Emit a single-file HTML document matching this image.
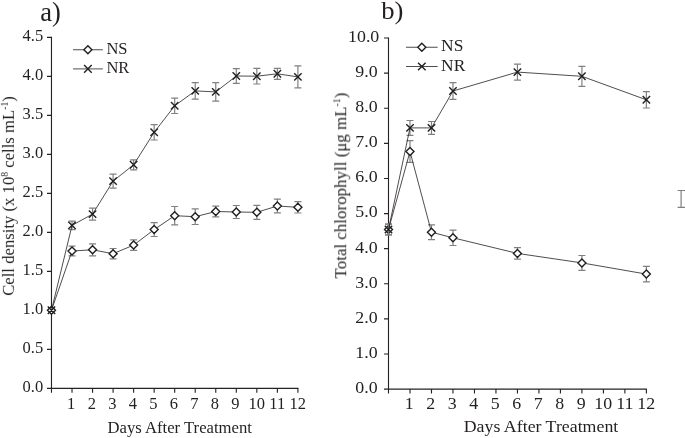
<!DOCTYPE html><html><head><meta charset="utf-8"><style>
html,body{margin:0;padding:0;background:#fff;}body{width:685px;height:438px;overflow:hidden;}svg{display:block;position:absolute;left:0;top:0;}
text{font-family:"Liberation Serif",serif;fill:#231f20;filter:blur(0px);}
</style></head><body>
<svg width="685" height="438" viewBox="0 0 685 438">
<rect width="685" height="438" fill="#fff"/>
<g stroke="#262223" stroke-width="1.12" fill="none">
<path d="M51.48 36.86V392.82"/>
<path d="M46.98 388.42H298.46"/>
<path d="M72.02 388.42v4.4M92.55 388.42v4.4M113.09 388.42v4.4M133.62 388.42v4.4M154.16 388.42v4.4M174.69 388.42v4.4M195.22 388.42v4.4M215.76 388.42v4.4M236.29 388.42v4.4M256.83 388.42v4.4M277.37 388.42v4.4M297.90 388.42v4.4M51.48 349.42h-4.5M51.48 310.42h-4.5M51.48 271.42h-4.5M51.48 232.42h-4.5M51.48 193.42h-4.5M51.48 154.42h-4.5M51.48 115.42h-4.5M51.48 76.42h-4.5M51.48 37.42h-4.5"/>
</g>
<text transform="translate(43.20 392.32) scale(0.96 1)" font-size="17.2" text-anchor="end">0.0</text>
<text transform="translate(43.20 353.32) scale(0.96 1)" font-size="17.2" text-anchor="end">0.5</text>
<text transform="translate(43.20 314.32) scale(0.96 1)" font-size="17.2" text-anchor="end">1.0</text>
<text transform="translate(43.20 275.32) scale(0.96 1)" font-size="17.2" text-anchor="end">1.5</text>
<text transform="translate(43.20 236.32) scale(0.96 1)" font-size="17.2" text-anchor="end">2.0</text>
<text transform="translate(43.20 197.32) scale(0.96 1)" font-size="17.2" text-anchor="end">2.5</text>
<text transform="translate(43.20 158.32) scale(0.96 1)" font-size="17.2" text-anchor="end">3.0</text>
<text transform="translate(43.20 119.32) scale(0.96 1)" font-size="17.2" text-anchor="end">3.5</text>
<text transform="translate(43.20 80.32) scale(0.96 1)" font-size="17.2" text-anchor="end">4.0</text>
<text transform="translate(43.20 41.32) scale(0.96 1)" font-size="17.2" text-anchor="end">4.5</text>
<text transform="translate(71.22 409.00) scale(0.96 1)" font-size="17.2" text-anchor="middle">1</text>
<text transform="translate(91.75 409.00) scale(0.96 1)" font-size="17.2" text-anchor="middle">2</text>
<text transform="translate(112.29 409.00) scale(0.96 1)" font-size="17.2" text-anchor="middle">3</text>
<text transform="translate(132.82 409.00) scale(0.96 1)" font-size="17.2" text-anchor="middle">4</text>
<text transform="translate(153.35 409.00) scale(0.96 1)" font-size="17.2" text-anchor="middle">5</text>
<text transform="translate(173.89 409.00) scale(0.96 1)" font-size="17.2" text-anchor="middle">6</text>
<text transform="translate(194.42 409.00) scale(0.96 1)" font-size="17.2" text-anchor="middle">7</text>
<text transform="translate(214.96 409.00) scale(0.96 1)" font-size="17.2" text-anchor="middle">8</text>
<text transform="translate(235.49 409.00) scale(0.96 1)" font-size="17.2" text-anchor="middle">9</text>
<text transform="translate(256.73 409.00) scale(0.96 1)" font-size="17.2" text-anchor="middle">10</text>
<text transform="translate(277.26 409.00) scale(0.96 1)" font-size="17.2" text-anchor="middle">11</text>
<text transform="translate(297.80 409.00) scale(0.96 1)" font-size="17.2" text-anchor="middle">12</text>
<text transform="translate(179.70 433.00) scale(0.97 1)" font-size="17.2" text-anchor="middle">Days After Treatment</text>
<text transform="translate(13.90 196.05) rotate(-90) scale(0.97 1)" font-size="17.2" text-anchor="middle">Cell density (x 10<tspan font-size="10" dy="-5.8">8</tspan><tspan dy="5.8"> cells mL</tspan><tspan font-size="10" dy="-5.8">-1</tspan><tspan dy="5.8">)</tspan></text>
<path d="M72.02 246.10V255.90M68.52 246.10h7M68.52 255.90h7M92.55 243.80V255.80M89.05 243.80h7M89.05 255.80h7M113.09 248.50V258.90M109.59 248.50h7M109.59 258.90h7M133.62 239.90V250.30M130.12 239.90h7M130.12 250.30h7M154.16 222.70V236.50M150.66 222.70h7M150.66 236.50h7M174.69 206.50V224.90M171.19 206.50h7M171.19 224.90h7M195.22 208.90V224.50M191.72 208.90h7M191.72 224.50h7M215.76 206.20V216.80M212.26 206.20h7M212.26 216.80h7M236.29 205.50V218.50M232.79 205.50h7M232.79 218.50h7M256.83 205.30V219.30M253.33 205.30h7M253.33 219.30h7M277.37 199.20V212.80M273.87 199.20h7M273.87 212.80h7M297.90 201.60V213.00M294.40 201.60h7M294.40 213.00h7" stroke="#808080" stroke-width="1.2" fill="none"/>
<polyline points="51.48,310.30 72.02,251.00 92.55,249.80 113.09,253.70 133.62,245.10 154.16,229.60 174.69,215.70 195.22,216.70 215.76,211.50 236.29,212.00 256.83,212.30 277.37,206.00 297.90,207.30" fill="none" stroke="#231f20" stroke-width="0.8"/>
<path d="M47.48 310.30l4 -4l4 4l-4 4zM68.02 251.00l4 -4l4 4l-4 4zM88.55 249.80l4 -4l4 4l-4 4zM109.09 253.70l4 -4l4 4l-4 4zM129.62 245.10l4 -4l4 4l-4 4zM150.16 229.60l4 -4l4 4l-4 4zM170.69 215.70l4 -4l4 4l-4 4zM191.22 216.70l4 -4l4 4l-4 4zM211.76 211.50l4 -4l4 4l-4 4zM232.29 212.00l4 -4l4 4l-4 4zM252.83 212.30l4 -4l4 4l-4 4zM273.37 206.00l4 -4l4 4l-4 4zM293.90 207.30l4 -4l4 4l-4 4z" stroke="#231f20" stroke-width="1.4" fill="#fff"/>
<path d="M72.02 221.10V229.70M68.52 221.10h7M68.52 229.70h7M92.55 208.10V220.10M89.05 208.10h7M89.05 220.10h7M113.09 174.10V188.10M109.59 174.10h7M109.59 188.10h7M133.62 159.80V169.80M130.12 159.80h7M130.12 169.80h7M154.16 124.60V140.00M150.66 124.60h7M150.66 140.00h7M174.69 98.10V113.50M171.19 98.10h7M171.19 113.50h7M195.22 82.70V99.10M191.72 82.70h7M191.72 99.10h7M215.76 82.70V101.10M212.26 82.70h7M212.26 101.10h7M236.29 68.60V83.40M232.79 68.60h7M232.79 83.40h7M256.83 68.40V84.00M253.33 68.40h7M253.33 84.00h7M277.37 68.30V79.30M273.87 68.30h7M273.87 79.30h7M297.90 65.85V87.95M294.40 65.85h7M294.40 87.95h7" stroke="#808080" stroke-width="1.2" fill="none"/>
<polyline points="51.48,310.30 72.02,225.40 92.55,214.10 113.09,181.10 133.62,164.80 154.16,132.30 174.69,105.80 195.22,90.90 215.76,91.90 236.29,76.00 256.83,76.20 277.37,73.80 297.90,76.90" fill="none" stroke="#231f20" stroke-width="0.8"/>
<path d="M47.78 306.60l7.4 7.4M47.78 314.00l7.4 -7.4M68.31 221.70l7.4 7.4M68.31 229.10l7.4 -7.4M88.85 210.40l7.4 7.4M88.85 217.80l7.4 -7.4M109.39 177.40l7.4 7.4M109.39 184.80l7.4 -7.4M129.92 161.10l7.4 7.4M129.92 168.50l7.4 -7.4M150.46 128.60l7.4 7.4M150.46 136.00l7.4 -7.4M170.99 102.10l7.4 7.4M170.99 109.50l7.4 -7.4M191.53 87.20l7.4 7.4M191.53 94.60l7.4 -7.4M212.06 88.20l7.4 7.4M212.06 95.60l7.4 -7.4M232.59 72.30l7.4 7.4M232.59 79.70l7.4 -7.4M253.13 72.50l7.4 7.4M253.13 79.90l7.4 -7.4M273.67 70.10l7.4 7.4M273.67 77.50l7.4 -7.4M294.20 73.20l7.4 7.4M294.20 80.60l7.4 -7.4" stroke="#231f20" stroke-width="1.4" fill="none"/>
<path d="M73 49.75H102.8M73 68.9H102.8" stroke="#231f20" stroke-width="0.8"/>
<path d="M83.9 49.75l4 -4l4 4l-4 4z" stroke="#231f20" stroke-width="1.4" fill="#fff"/>
<path d="M84.10000000000001 65.10000000000001l7.6 7.6M84.10000000000001 72.7l7.6 -7.6" stroke="#231f20" stroke-width="1.4" fill="none"/>
<text transform="translate(106.40 53.85) scale(1.03 1)" font-size="16" text-anchor="start">NS</text>
<text transform="translate(106.40 72.70) scale(1.03 1)" font-size="16" text-anchor="start">NR</text>
<text x="40.2" y="20.6" font-size="26.5">a)</text>
<g stroke="#262223" stroke-width="1.12" fill="none">
<path d="M388.5 37.47V393.50"/>
<path d="M384.0 389.1H646.94"/>
<path d="M409.99 389.1v4.4M431.48 389.1v4.4M452.97 389.1v4.4M474.46 389.1v4.4M495.95 389.1v4.4M517.44 389.1v4.4M538.93 389.1v4.4M560.42 389.1v4.4M581.91 389.1v4.4M603.40 389.1v4.4M624.89 389.1v4.4M646.38 389.1v4.4M388.5 353.99h-4.5M388.5 318.89h-4.5M388.5 283.78h-4.5M388.5 248.67h-4.5M388.5 213.57h-4.5M388.5 178.46h-4.5M388.5 143.35h-4.5M388.5 108.24h-4.5M388.5 73.14h-4.5M388.5 38.03h-4.5"/>
</g>
<text transform="translate(377.70 393.00) scale(1.04 1)" font-size="17.2" text-anchor="end">0.0</text>
<text transform="translate(377.70 357.89) scale(1.04 1)" font-size="17.2" text-anchor="end">1.0</text>
<text transform="translate(377.70 322.79) scale(1.04 1)" font-size="17.2" text-anchor="end">2.0</text>
<text transform="translate(377.70 287.68) scale(1.04 1)" font-size="17.2" text-anchor="end">3.0</text>
<text transform="translate(377.70 252.57) scale(1.04 1)" font-size="17.2" text-anchor="end">4.0</text>
<text transform="translate(377.70 217.47) scale(1.04 1)" font-size="17.2" text-anchor="end">5.0</text>
<text transform="translate(377.70 182.36) scale(1.04 1)" font-size="17.2" text-anchor="end">6.0</text>
<text transform="translate(377.70 147.25) scale(1.04 1)" font-size="17.2" text-anchor="end">7.0</text>
<text transform="translate(377.70 112.14) scale(1.04 1)" font-size="17.2" text-anchor="end">8.0</text>
<text transform="translate(377.70 77.04) scale(1.04 1)" font-size="17.2" text-anchor="end">9.0</text>
<text transform="translate(379.30 41.93) scale(1.04 1)" font-size="17.2" text-anchor="end">10.0</text>
<text transform="translate(409.19 409.00) scale(1.04 1)" font-size="17.2" text-anchor="middle">1</text>
<text transform="translate(430.68 409.00) scale(1.04 1)" font-size="17.2" text-anchor="middle">2</text>
<text transform="translate(452.17 409.00) scale(1.04 1)" font-size="17.2" text-anchor="middle">3</text>
<text transform="translate(473.66 409.00) scale(1.04 1)" font-size="17.2" text-anchor="middle">4</text>
<text transform="translate(495.15 409.00) scale(1.04 1)" font-size="17.2" text-anchor="middle">5</text>
<text transform="translate(516.64 409.00) scale(1.04 1)" font-size="17.2" text-anchor="middle">6</text>
<text transform="translate(538.13 409.00) scale(1.04 1)" font-size="17.2" text-anchor="middle">7</text>
<text transform="translate(559.62 409.00) scale(1.04 1)" font-size="17.2" text-anchor="middle">8</text>
<text transform="translate(581.11 409.00) scale(1.04 1)" font-size="17.2" text-anchor="middle">9</text>
<text transform="translate(603.30 409.00) scale(1.04 1)" font-size="17.2" text-anchor="middle">10</text>
<text transform="translate(624.79 409.00) scale(1.04 1)" font-size="17.2" text-anchor="middle">11</text>
<text transform="translate(646.28 409.00) scale(1.04 1)" font-size="17.2" text-anchor="middle">12</text>
<text transform="translate(541.00 431.80) scale(1.037 1)" font-size="17.2" text-anchor="middle">Days After Treatment</text>
<text transform="translate(346.20 185.50) rotate(-90) scale(0.985 1)" font-size="17.2" text-anchor="middle">Total chlorophyll (μg mL<tspan font-size="10" dy="-5.8">-1</tspan><tspan dy="5.8">)</tspan></text>
<path d="M388.50 224.10V234.90M385.00 224.10h7M385.00 234.90h7M409.99 140.60V162.40M406.49 140.60h7M406.49 162.40h7M431.48 224.80V239.60M427.98 224.80h7M427.98 239.60h7M452.97 230.10V245.50M449.47 230.10h7M449.47 245.50h7M517.44 247.60V259.20M513.94 247.60h7M513.94 259.20h7M581.91 255.50V270.30M578.41 255.50h7M578.41 270.30h7M646.38 266.40V281.80M642.88 266.40h7M642.88 281.80h7" stroke="#808080" stroke-width="1.2" fill="none"/>
<polyline points="388.50,229.50 409.99,151.50 431.48,232.20 452.97,237.80 517.44,253.40 581.91,262.90 646.38,274.10" fill="none" stroke="#231f20" stroke-width="0.8"/>
<path d="M384.50 229.50l4 -4l4 4l-4 4zM405.99 151.50l4 -4l4 4l-4 4zM427.48 232.20l4 -4l4 4l-4 4zM448.97 237.80l4 -4l4 4l-4 4zM513.44 253.40l4 -4l4 4l-4 4zM577.91 262.90l4 -4l4 4l-4 4zM642.38 274.10l4 -4l4 4l-4 4z" stroke="#231f20" stroke-width="1.4" fill="#fff"/>
<path d="M388.50 224.10V234.90M385.00 224.10h7M385.00 234.90h7M409.99 120.50V135.30M406.49 120.50h7M406.49 135.30h7M431.48 121.50V134.30M427.98 121.50h7M427.98 134.30h7M452.97 82.60V99.40M449.47 82.60h7M449.47 99.40h7M517.44 64.10V80.10M513.94 64.10h7M513.94 80.10h7M581.91 66.30V86.30M578.41 66.30h7M578.41 86.30h7M646.38 91.60V108.00M642.88 91.60h7M642.88 108.00h7" stroke="#808080" stroke-width="1.2" fill="none"/>
<polyline points="388.50,229.50 409.99,127.90 431.48,127.90 452.97,91.00 517.44,72.10 581.91,76.30 646.38,99.80" fill="none" stroke="#231f20" stroke-width="0.8"/>
<path d="M384.80 225.80l7.4 7.4M384.80 233.20l7.4 -7.4M406.29 124.20l7.4 7.4M406.29 131.60l7.4 -7.4M427.78 124.20l7.4 7.4M427.78 131.60l7.4 -7.4M449.27 87.30l7.4 7.4M449.27 94.70l7.4 -7.4M513.74 68.40l7.4 7.4M513.74 75.80l7.4 -7.4M578.21 72.60l7.4 7.4M578.21 80.00l7.4 -7.4M642.68 96.10l7.4 7.4M642.68 103.50l7.4 -7.4" stroke="#231f20" stroke-width="1.4" fill="none"/>
<path d="M406 47.26H437.65M406 66.5H437.65" stroke="#231f20" stroke-width="0.8"/>
<path d="M417.825 47.26l4 -4l4 4l-4 4z" stroke="#231f20" stroke-width="1.4" fill="#fff"/>
<path d="M418.025 62.7l7.6 7.6M418.025 70.3l7.6 -7.6" stroke="#231f20" stroke-width="1.4" fill="none"/>
<text transform="translate(441.10 51.40) scale(1.09 1)" font-size="16" text-anchor="start">NS</text>
<text transform="translate(441.10 71.00) scale(1.09 1)" font-size="16" text-anchor="start">NR</text>
<text transform="translate(381.20 18.50) scale(1.05 1)" font-size="25.4" text-anchor="start">b)</text>
<path d="M681.1 190.5V207.3M677.6 190.5H685M677.6 207.3H685" stroke="#808080" stroke-width="1.2" fill="none"/>
</svg></body></html>
